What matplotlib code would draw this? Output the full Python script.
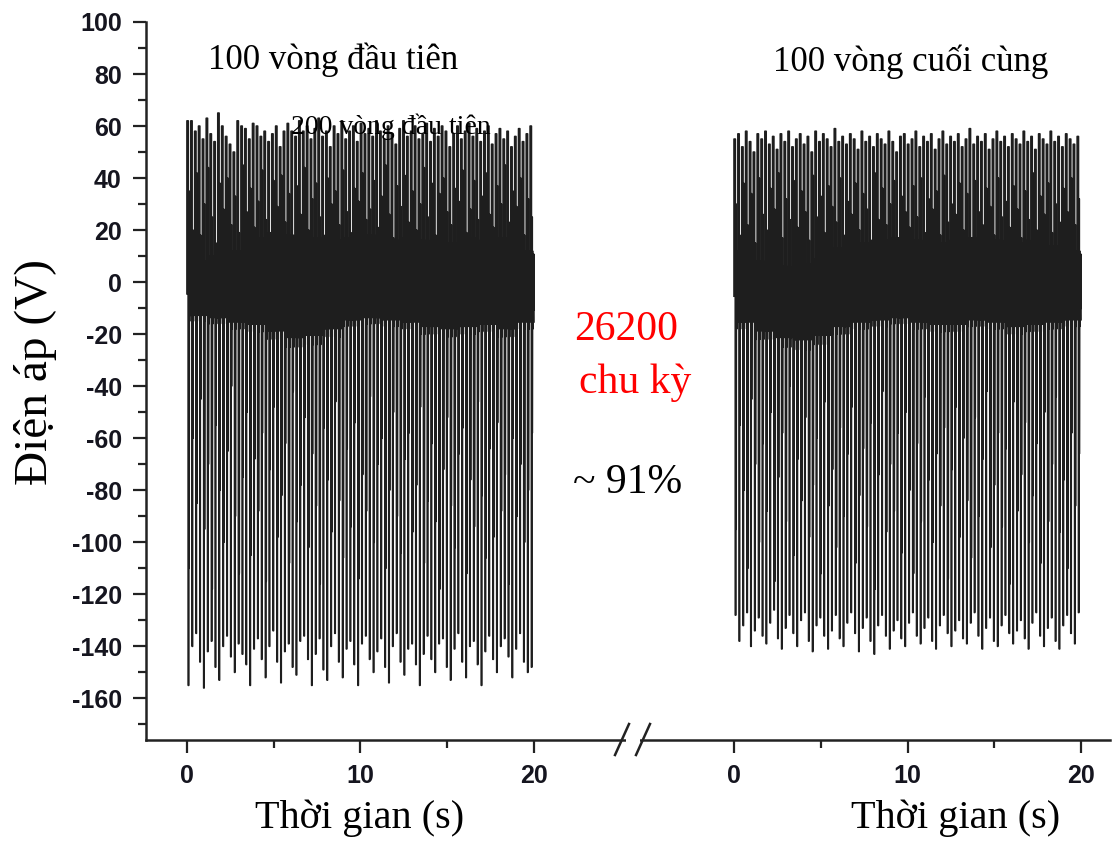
import numpy as np
import matplotlib
matplotlib.use("Agg")
import matplotlib.pyplot as plt
from matplotlib.lines import Line2D
from matplotlib.patches import Rectangle

# ---------------- data ----------------
n_cycles = 90
segment_len = 20.0          # seconds per shown window
right_offset = 31.53        # axis position of the second window's 0 s

left_pos = [62, 62, 58, 60, 55, 63, 57, 54, 65, 60, 56, 53, 50, 62, 60, 59, 55, 61, 60, 56,
            58, 54, 57, 60, 52, 58, 61, 58, 56, 62, 58, 60, 55, 59, 63, 56, 58, 52, 60, 57,
            62, 55, 58, 60, 54, 61, 57, 59, 56, 62, 58, 55, 60, 57, 53, 59, 62, 56, 58, 60,
            55, 57, 61, 54, 59, 56, 60, 58, 52, 57, 60, 55, 58, 61, 56, 59, 54, 58, 60, 53,
            57, 59, 55, 58, 52, 56, 59, 54, 57, 60]
left_neg = [-155, -140, -135, -146, -156, -142, -138, -148, -153, -140, -136, -144, -150, -139, -143,
            -147, -155, -141, -137, -145, -152, -140, -134, -146, -154, -142, -139, -148, -151, -138,
            -136, -145, -155, -143, -137, -149, -153, -140, -135, -146, -152, -141, -138, -147, -155,
            -139, -136, -145, -150, -142, -137, -148, -154, -140, -135, -146, -151, -141, -139, -147,
            -155, -143, -136, -145, -150, -139, -137, -148, -153, -141, -135, -146, -152, -140, -138,
            -147, -155, -142, -136, -145, -150, -140, -137, -144, -152, -141, -135, -146, -150, -148]
left_sec_hi = [35, 20, 42, 18, 30, 44, 25, 15, 38, 28, 40, 22, 33, 19, 45, 27, 36, 21, 31, 43,
               24, 17, 39, 29, 41, 23, 34, 16, 37, 26, 44, 20, 32, 38, 25, 18, 40, 30, 35, 22,
               43, 27, 19, 36, 31, 42, 24, 28, 39, 21, 33, 45, 26, 17, 37, 29, 41, 23, 35, 20,
               30, 44, 25, 38, 18, 34, 40, 27, 22, 36, 31, 43, 19, 28, 39, 24, 33, 42, 26, 21,
               37, 30, 45, 23, 35, 29, 40, 18, 32, 25]
left_sec_lo = [-110, -60, -85, -45, -95, -70, -118, -55, -80, -100, -65, -40, -90, -112, -75,
               -50, -105, -68, -88, -58, -115, -72, -48, -98, -82, -62, -108, -42, -92, -78,
               -52, -102, -66, -86, -116, -56, -76, -96, -46, -84, -106, -64, -94, -54, -114,
               -74, -88, -44, -100, -70, -60, -110, -80, -50, -90, -104, -68, -58, -96, -78,
               -48, -108, -84, -62, -92, -118, -72, -52, -86, -102, -66, -56, -112, -76, -94,
               -46, -82, -106, -64, -98, -54, -88, -74, -116, -60, -90, -70, -100, -80, -58]
left_band_hi = [8, 10, 12, 17, 19, 18, 17, 16, 17, 18, 16, 17, 16, 15, 17, 16, 17, 12]
left_band_lo = [-15, -16, -18, -19, -22, -25, -24, -21, -17, -16, -17, -18, -20, -21, -20, -19, -21, -18]

right_pos = [55, 57, 52, 58, 54, 50, 57, 55, 58, 53, 56, 51, 57, 54, 58, 52, 55, 57, 53, 56,
             50, 58, 54, 57, 55, 52, 59, 54, 56, 53, 57, 55, 51, 58, 54, 56, 52, 57, 55, 53,
             58, 54, 50, 56, 57, 53, 55, 58, 52, 56, 54, 57, 51, 55, 58, 53, 56, 54, 57, 52,
             55, 59, 53, 56, 54, 57, 51, 55, 58, 54, 56, 52, 57, 55, 53, 58, 54, 56, 51, 57,
             55, 53, 58, 54, 56, 52, 57, 55, 53, 56]
right_neg = [-128, -138, -132, -127, -140, -134, -129, -136, -139, -131, -126, -137, -141, -133, -128,
             -135, -140, -130, -127, -138, -142, -132, -129, -136, -141, -134, -128, -137, -140, -131,
             -127, -135, -142, -133, -129, -138, -143, -132, -128, -136, -141, -134, -130, -137, -140,
             -131, -127, -136, -139, -133, -129, -138, -141, -132, -128, -135, -140, -134, -130, -137,
             -139, -131, -127, -136, -141, -133, -129, -138, -140, -132, -128, -135, -139, -134, -130,
             -137, -141, -131, -127, -136, -140, -133, -129, -138, -141, -132, -128, -135, -139, -127]
right_sec_hi = [30, 18, 38, 22, 34, 15, 40, 26, 20, 36, 28, 42, 17, 32, 24, 39, 21, 35, 27, 16,
                41, 25, 33, 19, 37, 29, 23, 40, 18, 31, 26, 38, 20, 34, 28, 16, 42, 24, 36, 22,
                30, 39, 17, 33, 27, 21, 37, 25, 40, 19, 32, 28, 35, 18, 41, 23, 30, 26, 38, 20,
                34, 16, 39, 27, 22, 36, 29, 18, 40, 25, 31, 21, 37, 28, 17, 35, 24, 42, 20, 33,
                26, 38, 19, 30, 23, 36, 27, 40, 22, 32]
right_sec_lo = [-95, -55, -80, -110, -45, -70, -100, -62, -88, -50, -115, -75, -58, -92, -40,
                -105, -68, -84, -52, -98, -78, -60, -112, -46, -86, -72, -102, -56, -90, -66,
                -48, -108, -82, -64, -94, -54, -118, -74, -42, -96, -70, -88, -58, -104, -50,
                -80, -112, -62, -92, -44, -76, -100, -66, -86, -56, -114, -72, -48, -98, -60,
                -84, -106, -52, -90, -68, -42, -102, -78, -58, -94, -64, -116, -46, -88, -74,
                -54, -100, -82, -62, -108, -50, -92, -70, -44, -96, -76, -110, -58, -86, -66]
right_band_hi = [12, 8, 6, 7, 9, 13, 15, 16, 17, 16, 15, 16, 17, 16, 15, 16, 14, 12]
right_band_lo = [-18, -22, -25, -26, -24, -20, -18, -17, -16, -18, -19, -19, -17, -18, -20, -19, -18, -17]

x_ticks = [0, 10, 20]
y_ticks = list(range(-160, 101, 20))

# ---------------- waveform assembly ----------------
ring_frac = [1.0, 1.0, 0.75, 0.8, 0.55, 0.6, 0.9, 0.85]

def build(pos, neg, shi, slo, bhi, blo, x0):
    T = segment_len / n_cycles
    xs, ys = [], []
    for k in range(n_cycles):
        t = x0 + k * T
        g = k // 5
        hi, lo = bhi[g], blo[g]
        # main spike: flat-topped up/down strokes, then a secondary spike
        xs += [t, t, t + 0.34 * T, t + 0.34 * T, t + 0.46 * T,
               t + 0.46 * T, t + 0.56 * T, t + 0.56 * T]
        ys += [lo * 0.3, pos[k], pos[k], neg[k], neg[k],
               shi[k], shi[k], slo[k]]
        nr = len(ring_frac)
        for j, f in enumerate(ring_frac):
            xs.append(t + (0.62 + 0.36 * j / (nr - 1)) * T)
            ys.append((hi if j % 2 == 0 else lo) * f)
    xs.append(x0 + segment_len)
    ys.append(ys[-1])
    return np.array(xs), np.array(ys)

lx, ly = build(left_pos, left_neg, left_sec_hi, left_sec_lo, left_band_hi, left_band_lo, 0.0)
rx, ry = build(right_pos, right_neg, right_sec_hi, right_sec_lo, right_band_hi, right_band_lo, right_offset)

# ---------------- figure ----------------
W, H = 1112, 841
fig = plt.figure(figsize=(W / 100, H / 100), dpi=100)

def fx(px):
    return px / W

def fy(py):
    return 1 - py / H

ax = fig.add_axes([fx(146), fy(740), fx(1110) - fx(146), fy(22) - fy(740)])
ax.plot(lx, ly, color="#1e1e1e", lw=1.2)
ax.plot(rx, ry, color="#1e1e1e", lw=1.2)

ax.set_xlim(-2.36, 53.2)
ax.set_ylim(-176, 100)

for s in ["top", "right"]:
    ax.spines[s].set_visible(False)
for s in ["left", "bottom"]:
    ax.spines[s].set_linewidth(1.8)
    ax.spines[s].set_color("#222222")

xt = [v for v in x_ticks] + [v + right_offset for v in x_ticks]
ax.set_xticks(xt)
ax.set_xticklabels([str(v) for v in x_ticks] * 2)
ax.set_xticks([5, 15, 5 + right_offset, 15 + right_offset], minor=True)
ax.set_yticks(y_ticks)
ax.set_yticklabels([str(v) for v in y_ticks])
ax.set_yticks(list(range(-170, 100, 20)), minor=True)

for lab in ax.get_xticklabels() + ax.get_yticklabels():
    lab.set_fontfamily("Liberation Sans")
    lab.set_fontweight("bold")
    lab.set_fontsize(18)
    lab.set_color("#15151f")
ax.tick_params(which="major", direction="out", length=9.5, width=1.6, color="#222222")
ax.tick_params(which="minor", direction="out", length=5.5, width=1.6, color="#222222")
ax.tick_params(axis="y", which="major", pad=8)
ax.tick_params(axis="x", which="major", pad=8)

# axis break on the bottom spine
fig.add_artist(Rectangle((fx(626), fy(745)), fx(640) - fx(626), fy(734) - fy(745),
                         transform=fig.transFigure, facecolor="white", edgecolor="none", zorder=10))
for cx in (622, 643):
    fig.add_artist(Line2D([fx(cx - 7), fx(cx + 7)], [fy(755), fy(724)],
                          transform=fig.transFigure, color="#222222", lw=1.8, zorder=11))

serif = "Liberation Serif"
fig.text(fx(333), fy(60), "100 vòng đầu tiên", family=serif, size=25, ha="center", va="center")
fig.text(fx(911), fy(62), "100 vòng cuối cùng", family=serif, size=25, ha="center", va="center")
fig.text(fx(391), fy(127), "200 vòng đầu tiên", family=serif, size=20, ha="center", va="center", zorder=20)
fig.text(fx(626), fy(330), "26200", family=serif, size=30, ha="center", va="center", color="red")
fig.text(fx(635), fy(383), "chu kỳ", family=serif, size=30, ha="center", va="center", color="red")
fig.text(fx(628), fy(483), "~ 91%", family=serif, size=30, ha="center", va="center")
fig.text(fx(360), fy(818), "Thời gian (s)", family=serif, size=29, ha="center", va="center")
fig.text(fx(956), fy(818), "Thời gian (s)", family=serif, size=29, ha="center", va="center")
fig.text(fx(36), fy(372), "Điện áp (V)", family=serif, size=34, ha="center", va="center", rotation=90)

fig.savefig("out.png", dpi=100)
